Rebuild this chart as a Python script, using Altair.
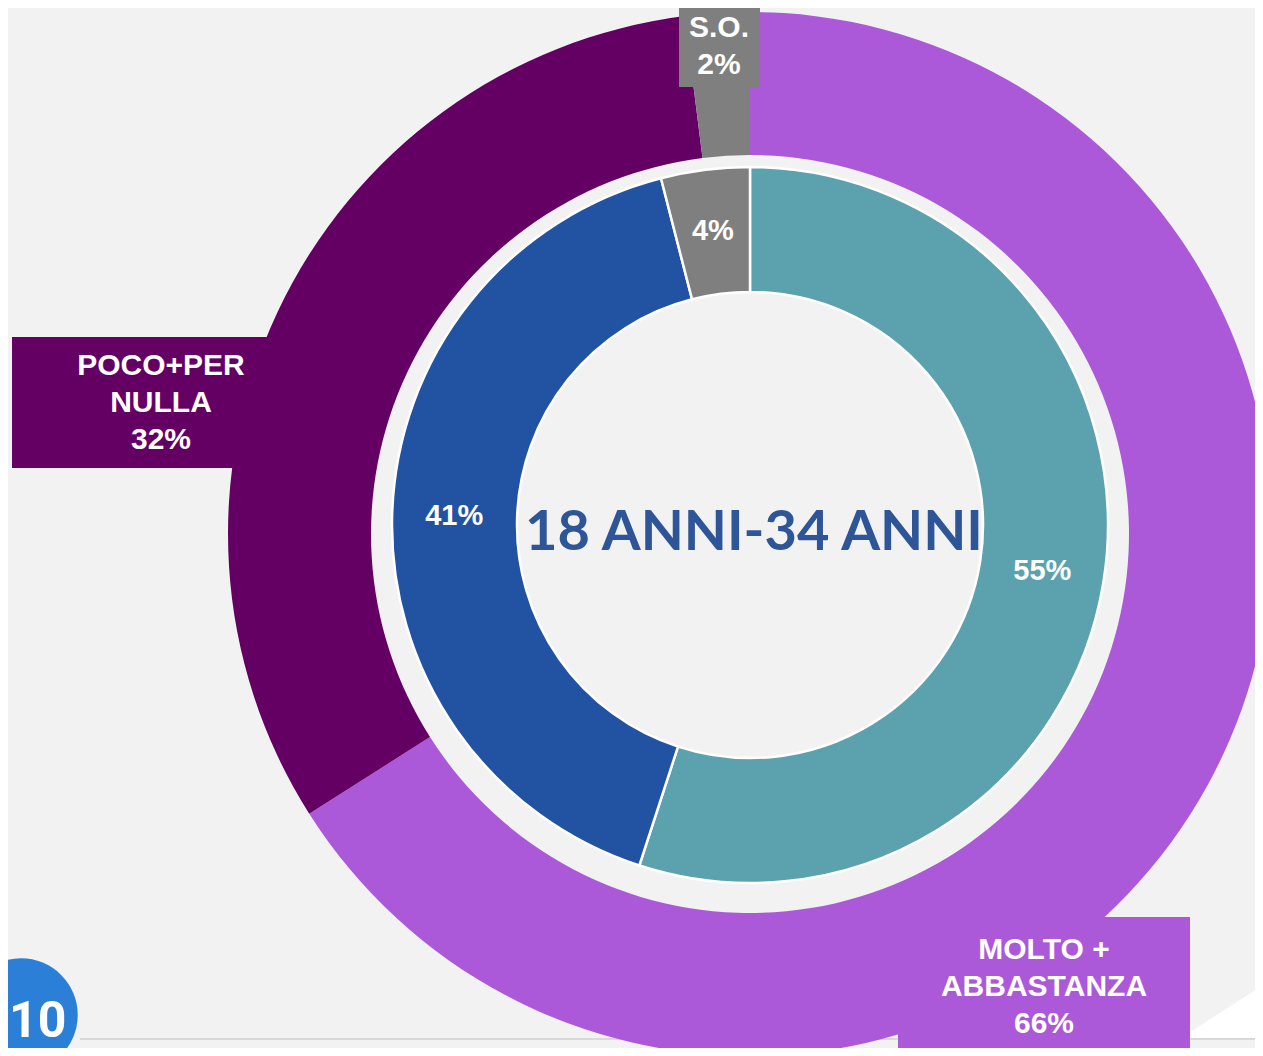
import altair as alt
import pandas as pd

# ---- data ----
categories = ["MOLTO + ABBASTANZA", "POCO+PER NULLA", "S.O."]
outer_values = [66, 32, 2]      # outer ring
inner_values = [55, 41, 4]      # inner ring
outer_label_lines = ["MOLTO +\nABBASTANZA", "POCO+PER\nNULLA", "S.O."]
center_title = "18 ANNI-34 ANNI"
page_number = "10"

# ---- style ----
outer_colors = ["#ab59d9", "#640064", "#7f7f7f"]
inner_colors = ["#5ba2ae", "#2253a3", "#7f7f7f"]
BG = "#f2f2f2"
W, H = 1247, 1040
OUT_CX, OUT_CY = 742, 526
IN_CX, IN_CY = 742, 517

outer_df = pd.DataFrame({"cat": categories, "value": outer_values, "ord": [0, 1, 2]})
inner_df = pd.DataFrame({"cat_i": categories, "value": inner_values, "ord": [0, 1, 2],
                         "label": [f"{v}%" for v in inner_values]})
one = pd.DataFrame({"k": [0]})

# bottom decorations
rule = alt.Chart(one).mark_rule(color="#d9d9d9", strokeWidth=2).encode(
    x=alt.value(72), x2=alt.value(1255), y=alt.value(1031))

tri = alt.Chart(pd.DataFrame({"px": [1173, 1255], "py": [1030, 977], "py2": [1030, 1030]})).mark_area(
    color="#ffffff", opacity=1).encode(
    x=alt.X("px:Q", scale=None), y=alt.Y("py:Q", scale=None), y2="py2:Q")

center = alt.Chart(pd.DataFrame({"t": [center_title]})).mark_text(
    font="Lato", fontWeight="bold", fontSize=56, color="#2e5597",
    align="center", baseline="alphabetic").encode(
    text="t:N", x=alt.value(746), y=alt.value(542))

outer = alt.Chart(outer_df).mark_arc(outerRadius=522, innerRadius=379).encode(
    theta=alt.Theta("value:Q", stack=True),
    color=alt.Color("cat:N", scale=alt.Scale(domain=categories, range=outer_colors), legend=None),
    order=alt.Order("ord:Q"),
    x=alt.value(OUT_CX), y=alt.value(OUT_CY))

inner = alt.Chart(inner_df).mark_arc(outerRadius=358, innerRadius=233, stroke="white", strokeWidth=2.5).encode(
    theta=alt.Theta("value:Q", stack=True),
    color=alt.Color("cat_i:N", scale=alt.Scale(domain=categories, range=inner_colors), legend=None),
    order=alt.Order("ord:Q"),
    x=alt.value(IN_CX), y=alt.value(IN_CY))

inner_text = alt.Chart(inner_df).mark_text(
    radius=296, font="Liberation Sans", fontWeight="bold", fontSize=29, color="white",
    align="center", baseline="middle").encode(
    theta=alt.Theta("value:Q", stack=True),
    order=alt.Order("ord:Q"),
    text="label:N",
    x=alt.value(IN_CX), y=alt.value(IN_CY))

# outer ring callout boxes
boxes = [
    # (x, x2, y, y2, text-x, first-line-y)
    (890, 1182, 909, 1050, 1036, 942),
    (4, 300, 329, 460, 153, 358),
    (671, 752, -3, 79, 711, 20),
]
layers = [rule, tri, center, outer, inner, inner_text]
for i, (bx, bx2, by, by2, tx, ty) in enumerate(boxes):
    txt = f"{outer_label_lines[i]}\n{outer_values[i]}%"
    layers.append(alt.Chart(one).mark_rect(color=outer_colors[i], opacity=1).encode(
        x=alt.value(bx), x2=alt.value(bx2), y=alt.value(by), y2=alt.value(by2)))
    layers.append(alt.Chart(pd.DataFrame({"t": [txt]})).mark_text(
        font="Liberation Sans", fontWeight="bold", fontSize=30, lineHeight=37, lineBreak="\n",
        color="white", align="center", baseline="middle").encode(
        text="t:N", x=alt.value(tx), y=alt.value(ty)))

circle = alt.Chart(one).mark_point(shape="circle", filled=True, size=12868, color="#2b7fd6", opacity=1).encode(
    x=alt.value(13), y=alt.value(1007))
num = alt.Chart(pd.DataFrame({"t": [page_number]})).mark_text(
    font="Roboto", fontWeight="bold", fontSize=50, color="white",
    align="left", baseline="alphabetic").encode(
    text="t:N", x=alt.value(1), y=alt.value(1029))
layers += [circle, num]

chart = alt.layer(*layers).resolve_scale(
    color="independent", theta="independent"
).properties(
    width=W, height=H, padding=0, autosize=alt.AutoSizeParams(type="none"),
    background=BG
).configure_view(stroke=None, fill=BG)

chart.save("out.html", embed_options={"renderer": "svg", "actions": False})
